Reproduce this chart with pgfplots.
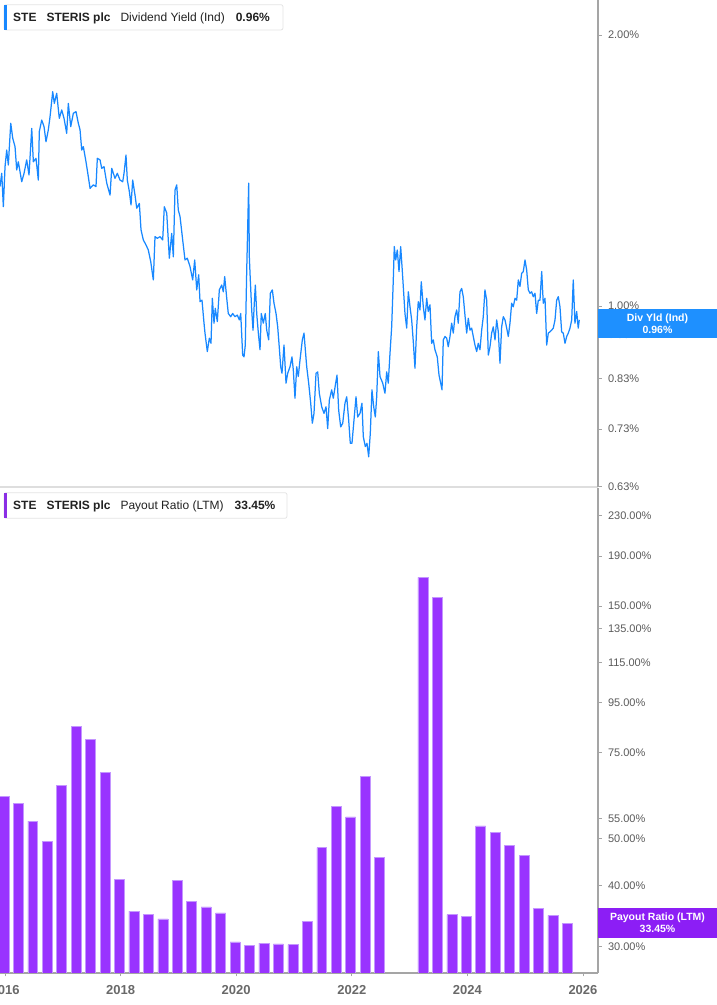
\documentclass[border=0pt]{standalone}
\usepackage{fontspec}
\setmainfont{Liberation Sans}
\usepackage{pgfplots}
\usepackage{pgfplotstable}
\pgfplotsset{compat=1.18}

\definecolor{yldblue}{RGB}{24,136,255}
\definecolor{boxblue}{RGB}{30,144,255}
\definecolor{barpurple}{RGB}{153,51,255}
\definecolor{baredge}{RGB}{196,150,255}
\definecolor{boxpurple}{RGB}{140,30,245}
\definecolor{axisgray}{RGB}{165,165,165}
\definecolor{labgray}{RGB}{90,90,90}
\definecolor{yeargray}{RGB}{105,105,105}
\definecolor{sepgray}{RGB}{222,222,222}
\definecolor{legtext}{RGB}{34,34,34}
\definecolor{legborder}{RGB}{228,228,228}

% dividend yield (%)
\pgfplotstableread{
year yield
2015.913 1.357
2015.943 1.404
2015.971 1.289
2016.000 1.428
2016.029 1.490
2016.057 1.434
2016.099 1.596
2016.133 1.536
2016.173 1.503
2016.202 1.416
2016.230 1.446
2016.289 1.374
2016.329 1.404
2016.375 1.453
2016.415 1.398
2016.462 1.575
2016.490 1.446
2016.536 1.459
2016.576 1.380
2016.593 1.562
2016.635 1.609
2016.675 1.582
2016.709 1.522
2016.749 1.569
2016.779 1.623
2016.825 1.730
2016.853 1.679
2016.894 1.723
2016.939 1.616
2016.981 1.651
2017.021 1.616
2017.067 1.555
2017.095 1.679
2017.137 1.582
2017.182 1.637
2017.228 1.644
2017.268 1.596
2017.298 1.569
2017.327 1.490
2017.355 1.503
2017.401 1.446
2017.441 1.392
2017.471 1.351
2017.528 1.363
2017.574 1.357
2017.597 1.459
2017.644 1.453
2017.673 1.422
2017.713 1.428
2017.760 1.369
2017.817 1.328
2017.846 1.422
2017.903 1.386
2017.943 1.404
2017.990 1.380
2018.036 1.374
2018.059 1.404
2018.093 1.471
2018.116 1.380
2018.151 1.340
2018.180 1.295
2018.209 1.380
2018.249 1.328
2018.279 1.284
2018.324 1.300
2018.353 1.215
2018.393 1.184
2018.439 1.169
2018.479 1.154
2018.521 1.120
2018.566 1.069
2018.595 1.194
2018.635 1.189
2018.682 1.194
2018.728 1.184
2018.756 1.289
2018.798 1.268
2018.843 1.130
2018.884 1.204
2018.912 1.134
2018.941 1.345
2018.971 1.363
2018.998 1.278
2019.028 1.257
2019.074 1.184
2019.114 1.125
2019.154 1.130
2019.201 1.106
2019.247 1.069
2019.282 1.125
2019.317 1.042
2019.351 1.083
2019.374 1.011
2019.408 1.015
2019.443 0.957
2019.460 0.933
2019.500 0.890
2019.535 0.921
2019.564 0.909
2019.587 1.020
2019.616 0.957
2019.638 0.994
2019.673 0.961
2019.708 1.042
2019.749 1.055
2019.777 1.037
2019.801 1.078
2019.836 1.020
2019.863 0.981
2019.905 0.973
2019.939 0.981
2019.979 0.973
2020.019 0.977
2020.054 0.965
2020.078 0.981
2020.112 0.882
2020.135 0.878
2020.157 0.905
2020.182 1.096
2020.199 1.225
2020.216 1.369
2020.227 1.134
2020.244 1.069
2020.268 0.990
2020.291 0.940
2020.313 1.007
2020.331 1.055
2020.355 0.981
2020.383 0.933
2020.412 0.894
2020.434 0.981
2020.469 0.957
2020.503 0.981
2020.528 0.940
2020.562 0.917
2020.590 1.033
2020.625 1.042
2020.654 1.007
2020.689 0.981
2020.718 0.948
2020.740 0.909
2020.770 0.856
2020.792 0.842
2020.827 0.905
2020.862 0.821
2020.891 0.842
2020.931 0.856
2020.965 0.878
2020.988 0.849
2021.017 0.790
2021.047 0.856
2021.074 0.835
2021.104 0.871
2021.144 0.917
2021.173 0.933
2021.196 0.894
2021.220 0.856
2021.254 0.821
2021.289 0.780
2021.317 0.741
2021.346 0.760
2021.381 0.842
2021.410 0.845
2021.438 0.800
2021.479 0.773
2021.519 0.760
2021.554 0.773
2021.583 0.731
2021.611 0.786
2021.652 0.807
2021.680 0.790
2021.721 0.821
2021.744 0.838
2021.773 0.766
2021.808 0.734
2021.843 0.741
2021.882 0.780
2021.912 0.793
2021.946 0.747
2021.974 0.704
2022.003 0.704
2022.038 0.747
2022.073 0.793
2022.102 0.753
2022.142 0.760
2022.176 0.780
2022.199 0.716
2022.234 0.698
2022.263 0.704
2022.292 0.680
2022.320 0.722
2022.349 0.807
2022.379 0.773
2022.407 0.753
2022.431 0.793
2022.459 0.890
2022.488 0.835
2022.535 0.821
2022.574 0.800
2022.604 0.845
2022.631 0.821
2022.661 0.886
2022.690 0.948
2022.718 1.069
2022.735 1.164
2022.760 1.125
2022.787 1.154
2022.817 1.092
2022.846 1.164
2022.869 1.106
2022.891 1.051
2022.920 0.981
2022.950 0.945
2022.978 1.037
2023.007 0.998
2023.036 0.965
2023.064 0.913
2023.093 0.853
2023.123 0.948
2023.150 1.011
2023.180 0.990
2023.202 1.064
2023.237 0.998
2023.266 0.965
2023.296 1.020
2023.323 0.986
2023.353 1.003
2023.382 0.909
2023.410 0.917
2023.439 0.894
2023.479 0.878
2023.509 0.838
2023.538 0.821
2023.561 0.807
2023.583 0.917
2023.612 0.925
2023.642 0.921
2023.669 0.901
2023.699 0.925
2023.728 0.957
2023.756 0.933
2023.785 0.973
2023.815 0.990
2023.842 0.957
2023.872 1.037
2023.901 1.046
2023.929 1.024
2023.958 0.977
2023.988 0.933
2024.016 0.969
2024.045 0.940
2024.074 0.945
2024.102 0.925
2024.131 0.905
2024.161 0.890
2024.188 0.909
2024.218 0.894
2024.247 0.940
2024.275 0.973
2024.304 1.042
2024.334 1.015
2024.362 0.882
2024.391 0.901
2024.420 0.933
2024.448 0.948
2024.478 0.917
2024.507 0.965
2024.535 0.936
2024.564 0.864
2024.593 0.948
2024.621 0.973
2024.651 0.965
2024.680 0.945
2024.708 0.925
2024.737 0.957
2024.766 1.007
2024.794 0.998
2024.824 1.020
2024.853 1.015
2024.881 1.069
2024.910 1.051
2024.939 1.087
2024.967 1.092
2024.997 1.125
2025.026 1.096
2025.054 1.042
2025.083 1.033
2025.112 1.037
2025.140 1.024
2025.170 1.033
2025.199 0.981
2025.227 1.015
2025.256 1.015
2025.286 1.092
2025.313 1.007
2025.343 1.020
2025.372 0.905
2025.400 0.933
2025.429 0.936
2025.458 0.940
2025.486 0.945
2025.516 0.965
2025.545 1.015
2025.573 1.024
2025.602 0.998
2025.631 0.936
2025.659 0.933
2025.689 0.909
2025.718 0.925
2025.746 0.933
2025.775 0.945
2025.805 0.965
2025.832 1.069
2025.861 0.957
2025.891 0.986
2025.918 0.945
2025.936 0.965
}\yieldtable

% payout ratio (LTM, %), quarterly
\pgfplotstableread{
year payout
2015.98 61.0
2016.23 59.0
2016.48 54.3
2016.73 49.4
2016.98 64.3
2017.23 84.9
2017.48 79.9
2017.73 68.4
2017.98 41.3
2018.23 35.5
2018.48 34.9
2018.73 34.2
2018.98 41.1
2019.23 37.2
2019.48 36.2
2019.73 35.2
2019.98 30.7
2020.23 30.2
2020.48 30.5
2020.73 30.4
2020.98 30.3
2021.23 33.8
2021.48 47.9
2021.73 58.3
2021.98 55.4
2022.23 67.0
2022.48 45.8
2023.23 171.9
2023.48 156.6
2023.73 34.9
2023.98 34.6
2024.23 53.1
2024.48 51.5
2024.73 48.5
2024.98 46.2
2025.23 35.9
2025.48 34.8
2025.73 33.45
}\payouttable

\begin{document}
\begin{tikzpicture}
\useasboundingbox (0pt,0pt) rectangle (717pt,1005pt);

% top panel: dividend yield
\begin{axis}[
    scale only axis, width=598pt, height=487pt,
    at={(0pt,518pt)}, anchor=south west,
    xmin=2015.913, xmax=2026.26,
    ymode=log, ymin=0.6295, ymax=2.187,
    axis x line*=bottom, axis y line*=right,
    axis line style={-},
    y axis line style={draw=axisgray, line width=1.3pt},
    x axis line style={draw=sepgray, line width=1.5pt},
    ytick pos=right, xtick=\empty,
    tick align=outside, major tick length=3.5pt,
    tick style={draw=axisgray, line width=0.9pt},
    yticklabel style={font=\fontsize{11}{13}\selectfont, text=labgray, xshift=3pt},
    ytick={0.63,0.73,0.83,0.93,1,2},
    yticklabels={0.63\%,0.73\%,0.83\%,0.93\%,1.00\%,2.00\%},
]
\addplot[yldblue, line width=1.25pt, line join=round] table[x=year, y=yield] {\yieldtable};
\end{axis}

% bottom panel: payout ratio
\begin{axis}[
    scale only axis, width=598pt, height=485pt,
    at={(0pt,32pt)}, anchor=south west,
    xmin=2015.913, xmax=2026.26,
    ymode=log, ymin=26.49, ymax=262.2,
    log origin y=infty,
    axis x line*=bottom, axis y line*=right,
    axis line style={-},
    y axis line style={draw=axisgray, line width=1.3pt},
    x axis line style={draw=axisgray, line width=1.5pt},
    ytick pos=right, xtick pos=bottom,
    tick align=outside, major tick length=3.5pt,
    tick style={draw=axisgray, line width=0.9pt},
    yticklabel style={font=\fontsize{11}{13}\selectfont, text=labgray, xshift=3pt},
    xtick={2016,2018,2020,2022,2024,2026},
    xticklabels={2016,2018,2020,2022,2024,2026},
    xticklabel style={font=\fontsize{13}{15}\selectfont\bfseries, text=yeargray, yshift=-5pt},
    ytick={30,40,50,55,75,95,115,135,150,190,230},
    yticklabels={30.00\%,40.00\%,50.00\%,55.00\%,75.00\%,95.00\%,115.00\%,135.00\%,150.00\%,190.00\%,230.00\%},
]
\addplot[ybar, bar width=0.172, bar shift=0pt, fill=barpurple, draw=baredge, line width=0.5pt]
  table[x=year, y=payout] {\payouttable};
\end{axis}

% legend boxes
\draw[legborder, fill=white, line width=0.8pt, rounded corners=2pt] (4pt,1000.3pt) rectangle (283pt,975pt);
\fill[yldblue] (4pt,1000.3pt) rectangle (7pt,975pt);
\node[anchor=base west, inner sep=0pt, text=legtext, font=\fontsize{12}{14}\selectfont] at (13pt,983.5pt)
  {\textbf{STE}\hspace{10pt}\textbf{STERIS plc}\hspace{10pt}Dividend Yield (Ind)\hspace{11pt}\textbf{0.96\%}};

\draw[legborder, fill=white, line width=0.8pt, rounded corners=2pt] (4pt,512.3pt) rectangle (287pt,486.7pt);
\fill[barpurple!90!black] (4pt,512.3pt) rectangle (7pt,486.7pt);
\node[anchor=base west, inner sep=0pt, text=legtext, font=\fontsize{12}{14}\selectfont] at (13pt,495.5pt)
  {\textbf{STE}\hspace{10pt}\textbf{STERIS plc}\hspace{10pt}Payout Ratio (LTM)\hspace{11pt}\textbf{33.45\%}};

% last-value labels on the right
\fill[boxblue] (598.3pt,696pt) rectangle (717pt,666.7pt);
\node[align=center, text=white, font=\fontsize{10.5}{11.5}\selectfont\bfseries, inner sep=0pt]
  at (657.5pt,681.3pt) {Div Yld (Ind)\\0.96\%};
\fill[boxpurple] (598.3pt,96.7pt) rectangle (717pt,67.3pt);
\node[align=center, text=white, font=\fontsize{10.5}{11.5}\selectfont\bfseries, inner sep=0pt]
  at (657.5pt,82pt) {Payout Ratio (LTM)\\33.45\%};
\end{tikzpicture}
\end{document}
